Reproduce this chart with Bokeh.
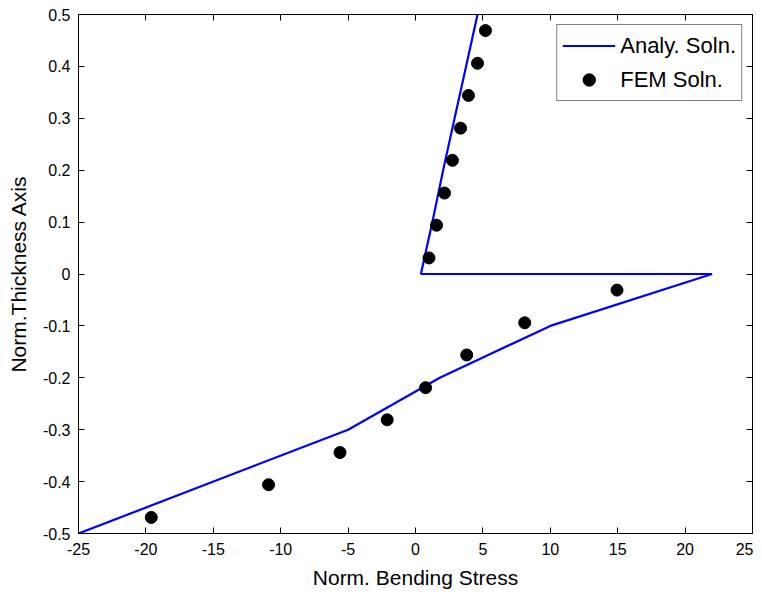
from bokeh.plotting import figure
from bokeh.models import LinearAxis, FixedTicker, Range1d, Legend, LegendItem
from bokeh.embed import file_html
from bokeh.resources import INLINE

# Analytical solution (piecewise through-thickness stress)
analy_x = [-25, -5, 1.8, 10, 22, 0.4, 1.25, 2.05, 2.9, 3.75, 4.6]
analy_y = [-0.5, -0.3, -0.2, -0.1, 0.0, 0.0, 0.1, 0.2, 0.3, 0.4, 0.5]

# FEM solution (element centroids)
fem_x = [-19.6, -10.9, -5.6, -2.1, 0.75, 3.8, 8.1, 14.95,
         1.0, 1.56, 2.15, 2.74, 3.34, 3.93, 4.6, 5.19]
fem_y = [-0.469, -0.406, -0.344, -0.281, -0.219, -0.156, -0.094, -0.031,
         0.031, 0.094, 0.156, 0.219, 0.281, 0.344, 0.406, 0.469]

x_ticks = [-25, -20, -15, -10, -5, 0, 5, 10, 15, 20, 25]
x_tick_labels = ["-25", "-20", "-15", "-10", "-5", "0", "5", "10", "15", "20", "25"]
y_ticks = [-0.5, -0.4, -0.3, -0.2, -0.1, 0, 0.1, 0.2, 0.3, 0.4, 0.5]
y_tick_labels = ["-0.5", "-0.4", "-0.3", "-0.2", "-0.1", "0", "0.1", "0.2", "0.3", "0.4", "0.5"]

FONT = "Liberation Sans"

p = figure(width=753, height=591, output_backend="svg", toolbar_location=None,
           x_range=Range1d(-25, 25), y_range=Range1d(-0.5, 0.5),
           x_axis_label="Norm. Bending Stress", y_axis_label="Norm.Thickness Axis",
           min_border_left=78, min_border_right=1, min_border_top=14, min_border_bottom=50)
p.xgrid.visible = False
p.ygrid.visible = False
p.outline_line_color = "black"
p.outline_line_width = 1
p.outline_line_alpha = 1

r_line = p.line(analy_x, analy_y, line_color="#0000ff", line_width=2.2)
r_pts = p.scatter(fem_x, fem_y, size=12, fill_color="black", line_color="black")

def style_axis(ax, ticks, labels, show_labels=True):
    ax.ticker = FixedTicker(ticks=ticks)
    ax.major_tick_in = 6
    ax.major_tick_out = 0
    ax.minor_tick_in = 0
    ax.minor_tick_out = 0
    ax.axis_line_color = "black"
    ax.major_tick_line_color = "black"
    ax.major_label_text_font = FONT
    ax.major_label_text_color = "black"
    ax.major_label_text_font_size = "16px"
    ax.axis_label_text_font = FONT
    ax.axis_label_text_font_style = "normal"
    ax.axis_label_text_font_size = "21px"
    ax.axis_label_text_color = "black"
    if show_labels:
        ax.major_label_overrides = {t: l for t, l in zip(ticks, labels)}
    else:
        ax.major_label_overrides = {t: "" for t in ticks}
        ax.major_label_standoff = 0

style_axis(p.xaxis[0], x_ticks, x_tick_labels)
style_axis(p.yaxis[0], y_ticks, y_tick_labels)
p.xaxis[0].major_label_standoff = 9
p.xaxis[0].axis_label_standoff = 8
p.yaxis[0].major_label_standoff = 8
p.yaxis[0].axis_label_standoff = 10

ax_top = LinearAxis()
style_axis(ax_top, x_ticks, x_tick_labels, show_labels=False)
p.add_layout(ax_top, "above")
ax_right = LinearAxis()
style_axis(ax_right, y_ticks, y_tick_labels, show_labels=False)
p.add_layout(ax_right, "right")

legend = Legend(items=[LegendItem(label="Analy. Soln.", renderers=[r_line]),
                       LegendItem(label="FEM Soln.", renderers=[r_pts])],
                location="top_right")
legend.label_text_font = FONT
legend.label_text_font_size = "22px"
legend.label_text_color = "black"
legend.glyph_width = 53
legend.glyph_height = 31
legend.label_height = 31
legend.spacing = 3
legend.padding = 5
legend.label_standoff = 5
legend.margin = 10
legend.border_line_color = "black"
legend.border_line_width = 1
legend.background_fill_color = "white"
legend.background_fill_alpha = 1
p.add_layout(legend)

open("out.html", "w").write(file_html(p, INLINE))
